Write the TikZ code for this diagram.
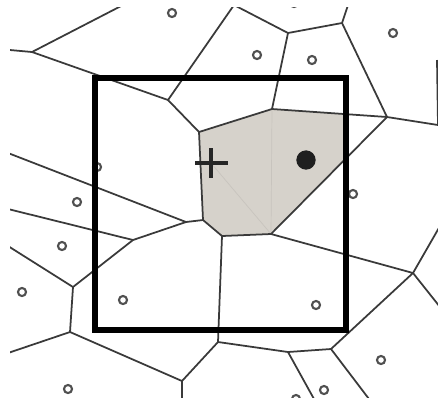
\documentclass[tikz,border=0pt]{standalone}
\usepackage{xcolor}
\usepackage{tikz}
\definecolor{cellfill}{RGB}{214,210,203}
\definecolor{edgegray}{RGB}{58,58,58}
\definecolor{faintgray}{RGB}{200,196,190}
\definecolor{sitegray}{RGB}{80,80,80}
\tikzset{
  voro/.style={draw=edgegray, line width=1.0pt, line join=round},
  faint/.style={draw=faintgray, line width=0.4pt},
  site/.style={circle, draw=sitegray, line width=1.2pt, inner sep=0pt, minimum size=4.6pt},
  dotmark/.style={circle, fill=black!88, inner sep=0pt, minimum size=11pt},
  window/.style={draw=black, line width=3.1pt},
  crossline/.style={draw=black!85, line width=2.2pt}
}

\begin{document}
\begin{tikzpicture}[x=0.02cm, y=-0.02cm]
  \useasboundingbox (0,0) rectangle (438,397);

  % Voronoi vertices
  \coordinate (tl0) at (10,50);
  \coordinate (tl1) at (32,52);
  \coordinate (tl2) at (123,5);
  \coordinate (v1) at (168,100);
  \coordinate (vt) at (234,5);
  \coordinate (v2) at (288,33);
  \coordinate (v3) at (342,23);
  \coordinate (v3t) at (348,5);
  \coordinate (q) at (387,117);
  \coordinate (qr) at (438,125);
  \coordinate (rt) at (437,60);
  \coordinate (c1) at (199,132);
  \coordinate (c2) at (272,109);
  \coordinate (c3) at (271,234);
  \coordinate (c4) at (222,236);
  \coordinate (c5) at (203,220);
  \coordinate (a) at (186,222);
  \coordinate (la) at (8,153);
  \coordinate (b) at (133,240);
  \coordinate (lb) at (8,209);
  \coordinate (c) at (73,287);
  \coordinate (lc) at (8,246);
  \coordinate (d) at (70,332);
  \coordinate (ld) at (8,353);
  \coordinate (e) at (182,381);
  \coordinate (eb) at (182,399);
  \coordinate (f) at (218,342);
  \coordinate (h) at (288,352);
  \coordinate (hb) at (314,399);
  \coordinate (g) at (331,349);
  \coordinate (gb) at (369,399);
  \coordinate (r) at (413,273);
  \coordinate (rr1) at (440,226);
  \coordinate (rr2) at (440,307);
  \coordinate (plus) at (211,163);

  \begin{scope}
    \clip (10,7) rectangle (438,397);

    % selected cell inside the window
    \begin{scope}
      \clip (95,78) rectangle (346,330);
      \fill[cellfill] (c1) -- (c2) -- (q) -- (c3) -- (c4) -- (c5) -- cycle;
      \draw[faint] (c2) -- (c3);
      \draw[faint] (plus) -- (c3);
    \end{scope}

    % cell edges
    \draw[voro] (tl0) -- (tl1) -- (tl2);
    \draw[voro] (tl1) -- (v1) -- (vt) -- (v2) -- (v3) -- (v3t);
    \draw[voro] (v1) -- (c1) -- (c2) -- (q) -- (qr);
    \draw[voro] (v2) -- (c2);
    \draw[voro] (v3) -- (q);
    \draw[voro] (rt) -- (qr);
    \draw[voro] (q) -- (c3) -- (c4) -- (c5) -- (c1);
    \draw[voro] (c5) -- (a) -- (la);
    \draw[voro] (a) -- (b) -- (lb);
    \draw[voro] (b) -- (c) -- (lc);
    \draw[voro] (c) -- (d) -- (ld);
    \draw[voro] (d) -- (e) -- (eb);
    \draw[voro] (e) -- (f) -- (c4);
    \draw[voro] (f) -- (h) -- (g);
    \draw[voro] (h) -- (hb);
    \draw[voro] (g) -- (gb);
    \draw[voro] (g) -- (r) -- (c3);
    \draw[voro] (rr1) -- (r) -- (rr2);

    % sites
    \foreach \x/\y [count=\i] in {172/13, 257/55, 312/60, 393/33, 294/3,
        97/167, 77/202, 62/246, 22/292, 123/300, 68/389,
        353/194, 316/305, 381/360, 324/390, 296/399}
      \node[site] (s\i) at (\x,\y) {};
  \end{scope}

  % query window
  \draw[window] (95,78) rectangle (346,330);

  % query point and nearest site
  \draw[crossline] (plus) +(-16,0) -- +(17,0) (plus) +(0,-15) -- +(0,15);
  \node[dotmark] (dot) at (306,160) {};
\end{tikzpicture}
\end{document}
